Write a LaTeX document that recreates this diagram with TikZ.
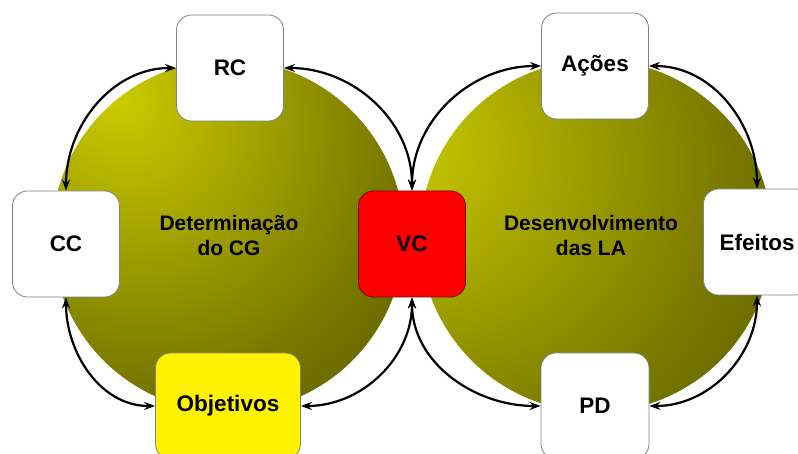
\documentclass[tikz,border=0pt]{standalone}
\usepackage{fontspec}
\setmainfont{Liberation Sans}
\usetikzlibrary{arrows.meta}
\definecolor{ballhi}{RGB}{204,204,0}
\definecolor{ballmid}{RGB}{165,165,0}
\definecolor{balllow}{RGB}{120,120,0}
\definecolor{balldark}{RGB}{86,86,0}
\definecolor{boxline}{RGB}{130,130,130}
\pgfdeclareradialshading{ballleft}{\pgfpoint{-16bp}{20bp}}{color(0bp)=(ballhi); color(16bp)=(ballmid); color(34bp)=(balllow); color(52bp)=(balldark); color(100bp)=(balldark)}
\pgfdeclareradialshading{ballright}{\pgfpoint{-30bp}{14bp}}{color(0bp)=(ballhi); color(18bp)=(ballmid); color(38bp)=(balllow); color(58bp)=(balldark); color(100bp)=(balldark)}
\begin{document}
\begin{tikzpicture}[x=1pt,y=1pt,
    box/.style={draw=boxline,line width=0.8pt,rounded corners=15pt,fill=white,
      minimum width=107pt,minimum height=106pt,inner sep=0pt,
      font=\bfseries\fontsize{22.5}{26}\selectfont},
    balltext/.style={align=center,font=\bfseries\fontsize{21}{25}\selectfont},
    link/.style={line width=2.2pt,{Stealth[length=11pt,width=8pt]}-{Stealth[length=11pt,width=8pt]}}]
  \useasboundingbox (0,0) rectangle (798,454);
  % the two spheres
  \shade[shading=ballleft] (228,218) circle (176);
  \shade[shading=ballright] (596,218) circle (176);
  \node[balltext] (cg) at (229,218) {Determinação\\do CG};
  \node[balltext] (la) at (591,218) {Desenvolvimento\\das LA};
  % boxes
  \node[box] (rc) at (230,386) {RC};
  \node[box] (cc) at (66,210) {CC};
  \node[box,fill=yellow,minimum width=145pt] (obj) at (228,48) {Objetivos};
  \node[box,fill=red,draw=red!50!black] (vc) at (412,210) {VC};
  \node[box] (acoes) at (595,388) {Ações};
  \node[box] (efeitos) at (757,212) {Efeitos};
  \node[box,minimum width=108pt] (pd) at (595,48) {PD};
  % links round the left sphere
  \draw[link] (rc.west) to[out=180,in=90] (cc.north);
  \draw[link] (cc.south) to[out=-90,in=180] (obj.west);
  \draw[link] (obj.east) to[out=0,in=-90] (vc.south);
  \draw[link] (vc.north) to[out=90,in=0] (rc.east);
  % links round the right sphere
  \draw[link] (vc.north) to[out=90,in=180] (acoes.west);
  \draw[link] (acoes.east) to[out=0,in=90] (efeitos.north);
  \draw[link] (efeitos.south) to[out=-90,in=0] (pd.east);
  \draw[link] (pd.west) to[out=180,in=-90] (vc.south);
\end{tikzpicture}
\end{document}
